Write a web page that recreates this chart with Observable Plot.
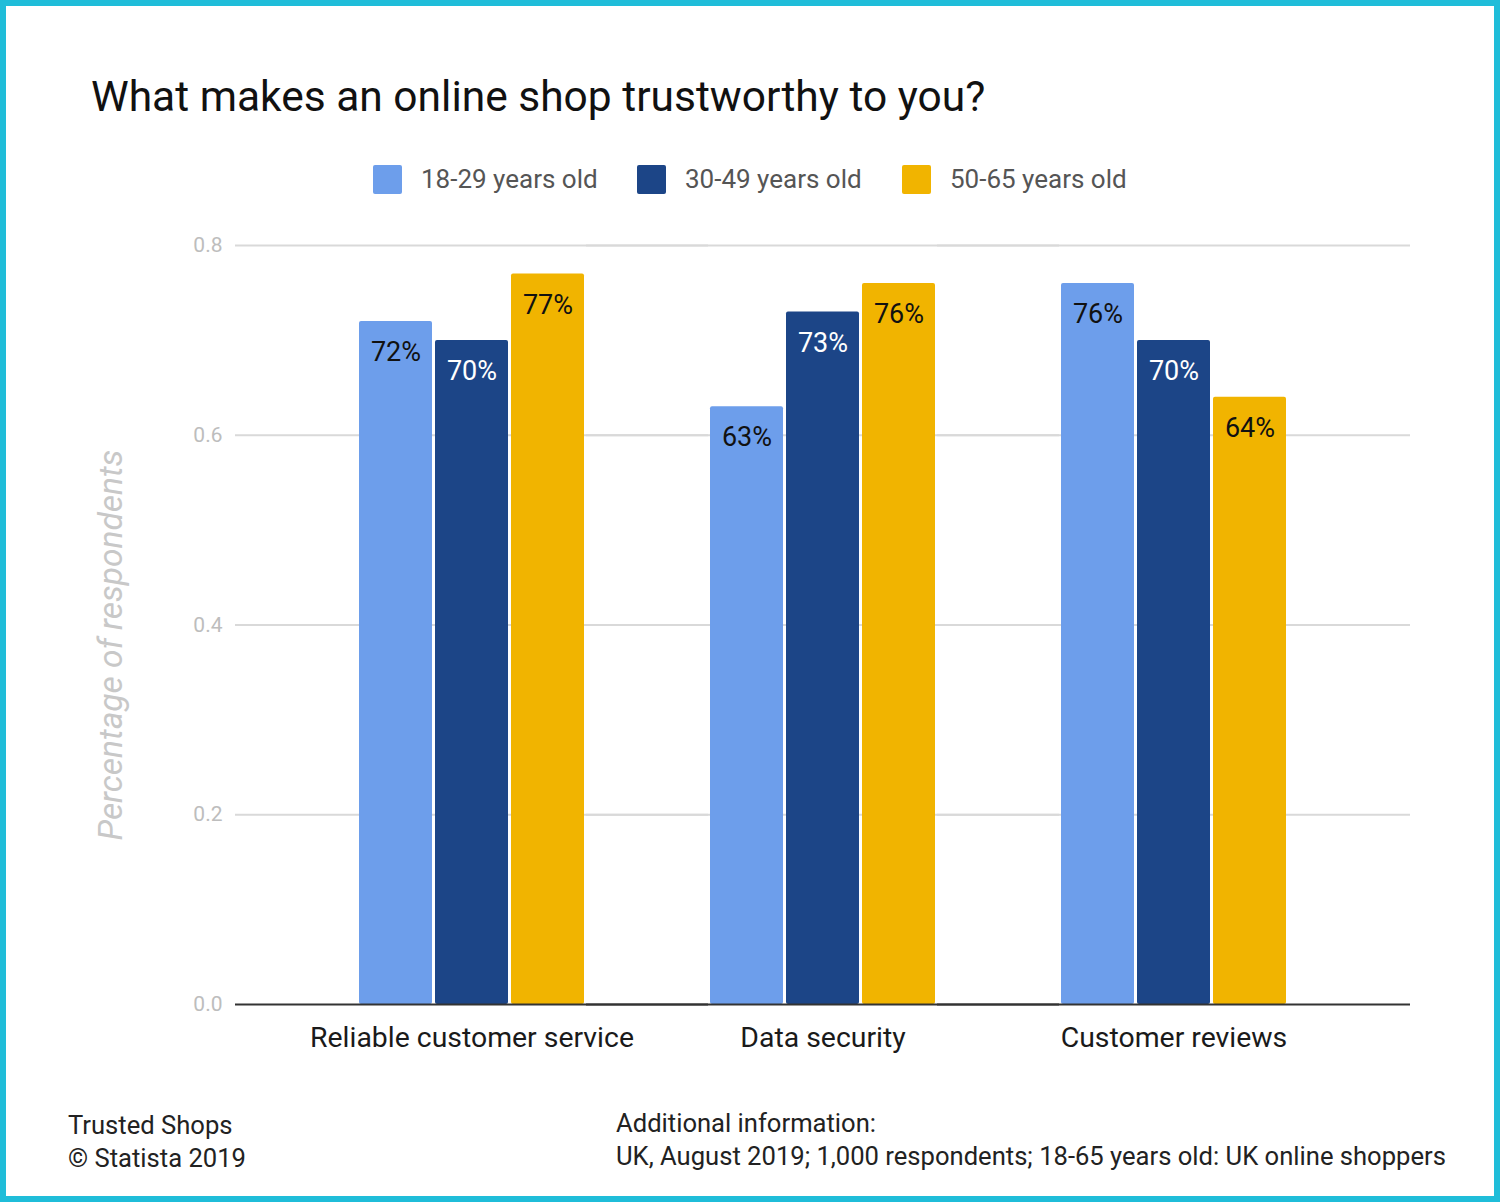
<!DOCTYPE html>
<html>
<head>
<meta charset="utf-8">
<script src="https://cdn.jsdelivr.net/npm/d3@7"></script>
<script src="https://cdn.jsdelivr.net/npm/@observablehq/plot@0.6"></script>
<style>
  html, body { margin: 0; padding: 0; background: #fff; }
  #root { position: relative; width: 1500px; height: 1202px; font-family: Roboto, "Noto Sans", sans-serif; overflow: hidden; background: #fff; }
  #border { position: absolute; left: 0; top: 0; width: 1500px; height: 1202px; box-sizing: border-box; border: 6px solid #1fbdd9; pointer-events: none; }
  #title { position: absolute; left: 91px; top: 72px; font-size: 42.5px; color: #111; white-space: nowrap; }
  #legend { position: absolute; left: 0; top: 163px; width: 1500px; height: 32px; }
  .li { position: absolute; top: 0; display: flex; align-items: center; height: 32px; font-size: 26px; color: #555; white-space: nowrap; }
  .sw { width: 29px; height: 29px; border-radius: 2px; margin-right: 19px; }
  #chart { position: absolute; left: 0; top: 220px; }
  #ylabel { position: absolute; left: 110px; top: 645px; transform: translate(-50%, -50%) rotate(-90deg); font-size: 33.5px; font-style: italic; color: #c8c8c8; white-space: nowrap; }
  .cap { position: absolute; font-size: 25.6px; color: #222; line-height: 33px; white-space: nowrap; }
</style>
</head>
<body>
<div id="root">
  <div id="title"></div>
  <div id="legend"></div>
  <div id="chart"></div>
  <div id="ylabel"></div>
  <div class="cap" id="capL" style="left:68px; top:1109px;"></div>
  <div class="cap" id="capR" style="left:616px; top:1107px;"></div>
  <div id="border"></div>
</div>
<script>
const title = "What makes an online shop trustworthy to you?";
const categories = ["Reliable customer service", "Data security", "Customer reviews"];
const groups = ["18-29 years old", "30-49 years old", "50-65 years old"];
const colors = ["#6d9eeb", "#1c4587", "#f1b400"];
const labelColors = ["#111111", "#ffffff", "#111111"];
const values1829 = [0.72, 0.63, 0.76];
const values3049 = [0.70, 0.73, 0.70];
const values5065 = [0.77, 0.76, 0.64];
const yTicks = [0, 0.2, 0.4, 0.6, 0.8];
const gridTicks = [0.2, 0.4, 0.6, 0.8];
const yLabel = "Percentage of respondents";
const sourceLines = ["Trusted Shops", "© Statista 2019"];
const infoLines = ["Additional information:", "UK, August 2019; 1,000 respondents; 18-65 years old: UK online shoppers"];
const legendX = [373, 637, 902];

const seriesValues = [values1829, values3049, values5065];
const data = categories.flatMap((c, i) => groups.map((g, j) => ({category: c, group: g, value: seriesValues[j][i], gi: j})));

document.getElementById("title").textContent = title;
document.getElementById("ylabel").textContent = yLabel;
document.getElementById("capL").innerHTML = sourceLines.map(s => `<div>${s}</div>`).join("");
document.getElementById("capR").innerHTML = infoLines.map(s => `<div>${s}</div>`).join("");

const legend = document.getElementById("legend");
groups.forEach((g, i) => {
  const item = document.createElement("div");
  item.className = "li";
  item.style.left = legendX[i] + "px";
  item.innerHTML = `<div class="sw" style="background:${colors[i]}"></div><span>${g}</span>`;
  legend.appendChild(item);
});

const chart = Plot.plot({
  width: 1500,
  height: 844,
  marginTop: 25,
  marginBottom: 60,
  marginLeft: 235,
  marginRight: 90,
  style: {fontFamily: "Roboto, sans-serif", background: "transparent", overflow: "visible"},
  fx: {domain: categories, paddingInner: 0, paddingOuter: 0.171},
  x: {domain: groups, paddingInner: 0.04, paddingOuter: 0.82, axis: null},
  y: {domain: [0, 0.8]},
  color: {domain: groups, range: colors},
  marks: [
    Plot.ruleY(gridTicks, {stroke: "#d9d9d9", strokeWidth: 2, insetLeft: -61, insetRight: -61}),
    Plot.barY(data, {fx: "category", x: "group", y: "value", fill: "group", rx: 2}),
    Plot.ruleY([0], {stroke: "#333333", strokeWidth: 2, insetLeft: -61, insetRight: -61}),
    Plot.text(data, {fx: "category", x: "group", y: "value", text: d => Math.round(d.value * 100) + "%", dy: 31, fontSize: 27, fill: d => labelColors[d.gi]}),
    Plot.axisY({ticks: yTicks, tickFormat: d3.format(".1f"), tickSize: 0, tickPadding: 74, fontSize: 21, color: "#bdbdbd", label: null}),
    Plot.axisFx({anchor: "bottom", tickSize: 0, tickPadding: 22, fontSize: 28.4, color: "#1a1a1a", label: null})
  ]
});
document.getElementById("chart").appendChild(chart);
</script>
</body>
</html>
